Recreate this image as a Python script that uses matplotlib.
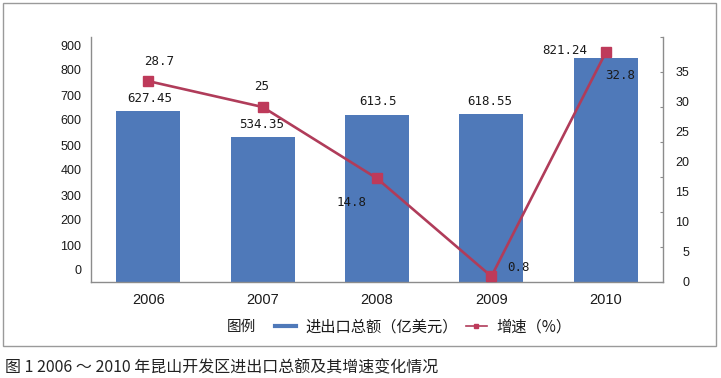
import matplotlib
matplotlib.use("Agg")
import matplotlib.pyplot as plt
from matplotlib.lines import Line2D
from matplotlib.patches import Rectangle

# ---- data ----
years = ["2006", "2007", "2008", "2009", "2010"]
total = [627.45, 534.35, 613.5, 618.55, 821.24]      # 进出口总额（亿美元）
growth = [28.7, 25, 14.8, 0.8, 32.8]                 # 增速（%）
left_ticks = [0, 100, 200, 300, 400, 500, 600, 700, 800, 900]
right_ticks = [0, 5, 10, 15, 20, 25, 30, 35]
bar_label_text = ["627.45", "534.35", "613.5", "618.55", "821.24"]
line_label_text = ["28.7", "25", "14.8", "0.8", "32.8"]
legend_labels = ["进出口总额（亿美元）", "增速（%）"]
caption = "图 1 2006 ～ 2010 年昆山开发区进出口总额及其增速变化情况"

# ---- style ----
W, H = 721, 378
DPI = 100
BLUE = "#4F79B9"
RED = "#B03C5A"
MRED = "#BE3A5A"
SPINE = "#8C8C8C"
TXT = "#1a1a1a"
CJK = ["Noto Sans CJK SC", "DejaVu Sans"]
NUM = ["Liberation Sans", "DejaVu Sans"]
MONO = ["DejaVu Sans Mono", "Liberation Mono"]
PX = 72.0 / DPI  # points per pixel

# label offsets in pixels (dx, dy up)
bar_off = [(2, 13), (-1, 12), (1, 13), (-2, 12), (-41, 8)]
line_off = [(11, 20), (-1, 20), (-25, -24), (27, 9), (14, -23)]

fig = plt.figure(figsize=(W / DPI, H / DPI), dpi=DPI)
fig.patch.set_facecolor("white")

# outer frame
fig.add_artist(Rectangle((3 / W, 1 - 346 / H), (716 - 3) / W, (346 - 3) / H,
                         transform=fig.transFigure, fill=False,
                         edgecolor="#9a9a9a", linewidth=1.0))

ax_l, ax_r, ax_t, ax_b = 91, 663, 37, 282
ax = fig.add_axes([ax_l / W, 1 - ax_b / H, (ax_r - ax_l) / W, (ax_b - ax_t) / H])
ax2 = ax.twinx()

x = list(range(len(years)))
ax.bar(x, total, width=0.56, color=BLUE, zorder=2)
ax.set_xlim(-0.5, len(years) - 0.5)
ax.set_ylim(0, 900)

ax2.plot(x, growth, color=RED, linewidth=1.9, marker="s", markersize=6.5,
         markerfacecolor=MRED, markeredgecolor=MRED, zorder=3)
ax2.set_ylim(0, 35)

for a in (ax, ax2):
    a.spines["top"].set_visible(False)
    for s in ("left", "right", "bottom"):
        a.spines[s].set_color(SPINE)
        a.spines[s].set_linewidth(1.0)
    a.patch.set_visible(False)
ax.spines["right"].set_visible(False)
ax2.spines["left"].set_visible(False)
ax2.spines["bottom"].set_visible(False)

# x axis
ax.set_xticks(x)
ax.set_xticklabels(years, fontfamily=NUM, fontsize=10.5, color=TXT)
ax.tick_params(axis="x", length=0, pad=8)

# left axis: labels as drawn in the reference (spacing 25px, 0 label at 12px above axis)
plot_h = ax_b - ax_t
lpos = [(12 + 0.25 * v) / plot_h * 900 for v in left_ticks]
ax.set_yticks(lpos)
ax.set_yticklabels([str(v) for v in left_ticks], fontfamily=NUM, fontsize=9, color=TXT)
ax.tick_params(axis="y", length=0, pad=7)

# right axis: tick marks every 5, labels spaced 30px
ax2.set_yticks(right_ticks)
ax2.set_yticklabels([])
ax2.tick_params(axis="y", which="major", direction="in", length=2.5, color=SPINE)
rpos = [(1 + 6 * v) / plot_h * 35 for v in right_ticks]
ax2.set_yticks(rpos, minor=True)
ax2.set_yticklabels([str(v) for v in right_ticks], minor=True,
                    fontfamily=NUM, fontsize=9, color=TXT)
ax2.tick_params(axis="y", which="minor", length=0, pad=19)
for lab in ax2.get_yticklabels(minor=True):
    lab.set_horizontalalignment("right")

# data labels
for i in x:
    dx, dy = bar_off[i]
    ax.annotate(bar_label_text[i], (i, total[i]), xytext=(dx * PX, dy * PX),
                textcoords="offset points", ha="center", va="center",
                fontfamily=MONO, fontsize=9, color=TXT, zorder=5)
    dx, dy = line_off[i]
    ax2.annotate(line_label_text[i], (i, growth[i]), xytext=(dx * PX, dy * PX),
                 textcoords="offset points", ha="center", va="center",
                 fontfamily=MONO, fontsize=9, color=TXT, zorder=5)

# legend
fig.text(227 / W, 1 - 327 / H, "图例", fontfamily=CJK, fontsize=10.5,
         color=TXT, ha="left", va="center")
handles = [Line2D([], [], color=BLUE, linewidth=3),
           Line2D([], [], color=RED, linewidth=1.2, marker="s", markersize=3,
                  markerfacecolor=MRED, markeredgecolor=MRED)]
leg = fig.legend(handles, legend_labels, loc="center left",
                 bbox_to_anchor=(275 / W, 1 - 327 / H), ncol=2, frameon=False,
                 prop={"family": CJK, "size": 11}, handlelength=1.4,
                 handletextpad=0.6, columnspacing=0.5, borderpad=0,
                 borderaxespad=0)
for t in leg.get_texts():
    t.set_color(TXT)

# caption
fig.text(5 / W, 1 - 368 / H, caption, fontfamily=CJK, fontsize=11.5,
         color="#222222", ha="left", va="center")

fig.savefig("out.png", dpi=DPI, facecolor="white")
